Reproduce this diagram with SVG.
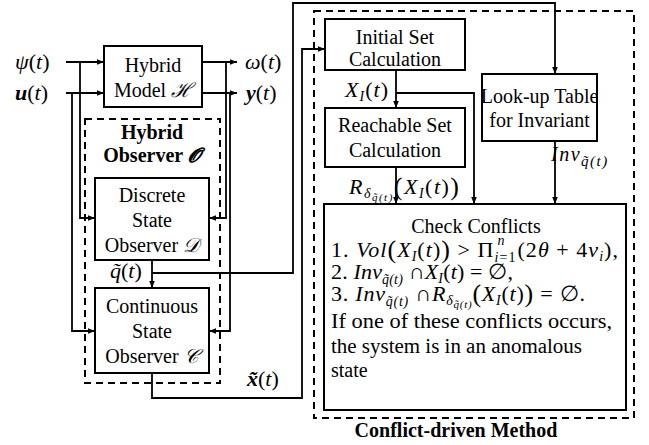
<svg xmlns="http://www.w3.org/2000/svg" width="649" height="445" viewBox="0 0 649 445">
<style>
text{font-family:"Liberation Serif","DejaVu Serif",serif;font-size:20px;fill:#000}
.c{text-anchor:middle}
.b{font-weight:bold}
.i{font-style:italic}
.m{font-size:22px}
.s{font-size:14px}
.ss{font-size:11px}
.box{fill:#fff;stroke:#000;stroke-width:2}
.dash{fill:none;stroke:#000;stroke-width:2;stroke-dasharray:7,5}
.ar{fill:none;stroke:#000;stroke-width:1.8;marker-end:url(#ah)}
</style>
<defs>
<marker id="ah" markerUnits="userSpaceOnUse" markerWidth="8" markerHeight="8" refX="7" refY="4" orient="auto">
<path d="M0,1.2 L7,4 L0,6.8 Z" fill="#000"/>
</marker>
</defs>
<rect width="649" height="445" fill="#fff"/>

<g id="hybrid-observer-frame">
<rect class="dash" x="85" y="119" width="135" height="264"/>
<text class="c b" x="152" y="139">Hybrid</text>
<text class="c b" x="152" y="162">Observer <tspan class="i">𝓞</tspan></text>
</g>

<g id="conflict-frame">
<rect class="dash" x="314" y="11" width="320" height="407"/>
<text class="c b" x="456" y="437" font-size="21">Conflict-driven Method</text>
</g>

<g id="connectors">
<path class="ar" d="M66,62 H104"/>
<path class="ar" d="M66,93 H104"/>
<path class="ar" d="M80,62 V218 H95"/>
<path class="ar" d="M72,93 V331 H95"/>
<path class="ar" d="M202,62 H237"/>
<path class="ar" d="M202,93 H237"/>
<path class="ar" d="M226,62 V218 H209"/>
<path class="ar" d="M230,93 V331 H209"/>
<path class="ar" d="M152,260 V288"/>
<path class="ar" d="M152,273 H293 V3 H555 V74"/>
<path class="ar" d="M152,373 V398 H302 V49 H325"/>
<path class="ar" d="M396,70 V108"/>
<path class="ar" d="M396,93 H474 V204"/>
<path class="ar" d="M396,167 V204"/>
<path class="ar" d="M555,141 V204"/>
</g>

<g id="labels">
<text class="m" x="15" y="69"><tspan class="i">ψ</tspan>(<tspan class="i">t</tspan>)</text>
<text class="m" x="15" y="100"><tspan class="i b">u</tspan>(<tspan class="i">t</tspan>)</text>
<text class="m" x="245" y="69"><tspan class="i">ω</tspan>(<tspan class="i">t</tspan>)</text>
<text class="m" x="246" y="100"><tspan class="i b">y</tspan>(<tspan class="i">t</tspan>)</text>
<text class="m" x="110" y="278"><tspan class="i">q̃</tspan>(<tspan class="i">t</tspan>)</text>
<text class="m" x="247" y="386"><tspan class="i b">x̃</tspan>(<tspan class="i">t</tspan>)</text>
<text class="m" x="345" y="97" textLength="43" lengthAdjust="spacing"><tspan class="i">X</tspan><tspan class="i s" dy="4">I</tspan><tspan dy="-4">(</tspan><tspan class="i">t</tspan>)</text>
<text class="m" x="349" y="194" textLength="110" lengthAdjust="spacing"><tspan class="i">R</tspan><tspan class="i s" dy="4">δ</tspan><tspan class="i ss" dy="3">q̃(t)</tspan><tspan font-size="26" dy="-6">(</tspan><tspan class="i" dy="-1">X</tspan><tspan class="i s" dy="4">I</tspan><tspan dy="-4">(</tspan><tspan class="i">t</tspan>)<tspan font-size="26" dy="1">)</tspan></text>
<text x="551" y="161" font-size="23"><tspan class="i" letter-spacing="1.5">Inv</tspan><tspan class="i" font-size="15" letter-spacing="1.5" dy="5">q̃(t)</tspan></text>
</g>

<g id="hybrid-model">
<rect class="box" x="104" y="46" width="98" height="61"/>
<text class="c" x="153" y="72">Hybrid</text>
<text class="c" x="153" y="97">Model <tspan class="i">ℋ</tspan></text>
</g>

<g id="discrete-observer">
<rect class="box" x="95" y="178" width="114" height="82"/>
<text class="c" x="152" y="202">Discrete</text>
<text class="c" x="152" y="227">State</text>
<text class="c" x="152" y="252">Observer <tspan class="i">𝒟</tspan></text>
</g>

<g id="continuous-observer">
<rect class="box" x="95" y="288" width="114" height="85"/>
<text class="c" x="152" y="313">Continuous</text>
<text class="c" x="152" y="338">State</text>
<text class="c" x="152" y="363">Observer <tspan class="i">𝒞</tspan></text>
</g>

<g id="initial-set">
<rect class="box" x="325" y="19" width="140" height="51"/>
<text class="c" x="395" y="44">Initial Set</text>
<text class="c" x="395" y="66">Calculation</text>
</g>

<g id="reachable-set">
<rect class="box" x="325" y="108" width="140" height="59"/>
<text class="c" x="395" y="132">Reachable Set</text>
<text class="c" x="395" y="157">Calculation</text>
</g>

<g id="lookup-table">
<rect class="box" x="482" y="74" width="115" height="67"/>
<text class="c" x="539.5" y="103" font-size="18.5">Look-up Table</text>
<text class="c" x="539.5" y="127" font-size="18.5">for Invariant</text>
</g>

<g id="check-conflicts">
<rect class="box" x="324" y="204" width="302" height="206"/>
<text class="c" x="476" y="233">Check Conflicts</text>
<text class="m" x="331" y="257" textLength="287" lengthAdjust="spacing">1. <tspan class="i">Vol</tspan><tspan font-size="26" dy="1">(</tspan><tspan class="i" dy="-1">X</tspan><tspan class="i s" dy="4">I</tspan><tspan dy="-4">(</tspan><tspan class="i">t</tspan>)<tspan font-size="26" dy="1">)</tspan><tspan dy="-1"> &gt; Π</tspan><tspan class="i s" dy="5">i</tspan><tspan class="s">=1</tspan><tspan class="i s" dx="-19" dy="-17">n</tspan><tspan dx="12" dy="12">(2</tspan><tspan class="i">θ</tspan> + 4<tspan class="i">v</tspan><tspan class="i s" dy="4">i</tspan><tspan dy="-4">),</tspan></text>
<text class="m" x="331" y="279" textLength="182" lengthAdjust="spacing">2. <tspan class="i">Inv</tspan><tspan class="i s" dy="5">q̃(t)</tspan><tspan dy="-5"> ∩</tspan><tspan class="i">X</tspan><tspan class="i s" dy="4">I</tspan><tspan dy="-4">(</tspan><tspan class="i">t</tspan>) = ∅,</text>
<text class="m" x="331" y="301" textLength="254" lengthAdjust="spacing">3. <tspan class="i">Inv</tspan><tspan class="i s" dy="5">q̃(t)</tspan><tspan dy="-5"> ∩</tspan><tspan class="i">R</tspan><tspan class="i s" dy="4">δ</tspan><tspan class="i ss" dy="3">q̃(t)</tspan><tspan font-size="26" dy="-6">(</tspan><tspan class="i" dy="-1">X</tspan><tspan class="i s" dy="4">I</tspan><tspan dy="-4">(</tspan><tspan class="i">t</tspan>)<tspan font-size="26" dy="1">)</tspan><tspan dy="-1"> = ∅.</tspan></text>
<text x="331" y="328" font-size="21.5" textLength="281" lengthAdjust="spacingAndGlyphs">If one of these conflicts occurs,</text>
<text x="331" y="353" font-size="21.5" textLength="251" lengthAdjust="spacingAndGlyphs">the system is in an anomalous</text>
<text x="331" y="377" font-size="21.5">state</text>
</g>
</svg>
